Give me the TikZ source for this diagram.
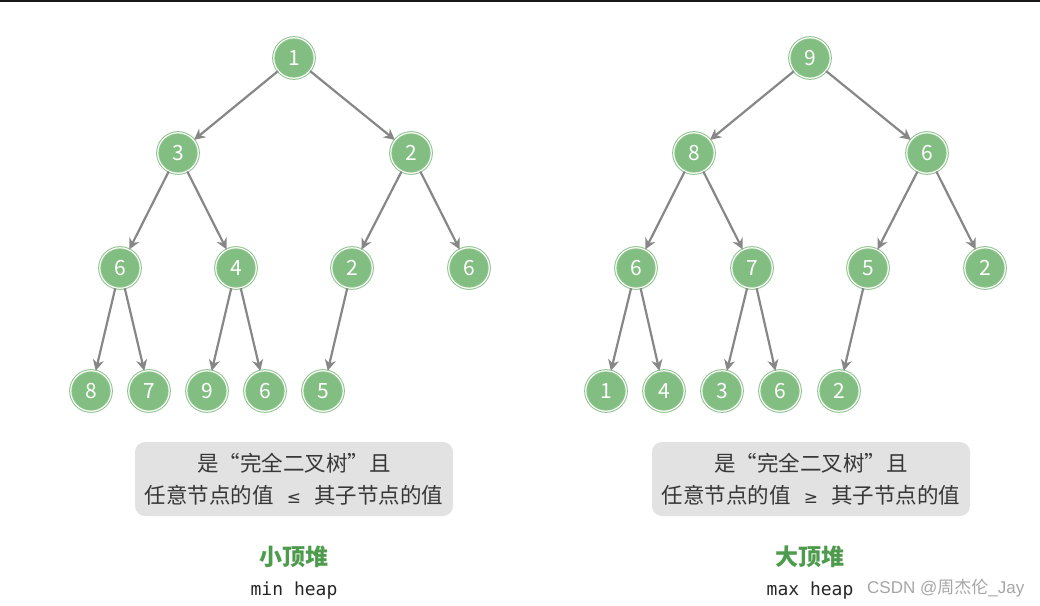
\documentclass[tikz,border=0pt]{standalone}
\usepackage{fontspec}
\setmainfont{Noto Sans CJK SC}
\newfontfamily\monof{DejaVu Sans Mono}
\newfontfamily\wmfont{Liberation Sans}
\newfontfamily\wmcjk{Noto Sans CJK SC}
\newfontfamily\symf{DejaVu Sans}
\usetikzlibrary{arrows.meta}
\definecolor{nodegreen}{RGB}{130,190,130}
\definecolor{ringgreen}{RGB}{140,196,140}
\definecolor{edgegray}{RGB}{135,135,135}
\definecolor{boxgray}{RGB}{226,226,226}
\definecolor{textdark}{RGB}{55,55,55}
\definecolor{titlegreen}{RGB}{78,155,78}
\tikzset{
  hnode/.style={circle, fill=nodegreen, draw=ringgreen, line width=1pt, double=white, double distance=1.2pt,
    minimum size=40.5pt, inner sep=0pt, text=white, font=\fontsize{21}{21}\selectfont},
  edge/.style={draw=edgegray, line width=2.2pt, -{Stealth[length=11pt,width=11pt,inset=3.5pt]}},
  infobox/.style={fill=boxgray, rounded corners=10pt, minimum width=318pt, minimum height=74pt, inner sep=0pt,
    text=textdark, align=center, font=\fontsize{21.5}{32}\selectfont},
  title/.style={text=titlegreen, font=\fontsize{23}{23}\selectfont\bfseries},
  subtitle/.style={text=black!85, font=\monof\fontsize{18}{18}\selectfont},
}
\newcommand{\relsym}[1]{\hspace{0.6em}{\symf\fontsize{17}{17}\selectfont #1}\hspace{0.6em}}
\begin{document}
\begin{tikzpicture}[x=1pt,y=-1pt]
\useasboundingbox (0,0) rectangle (1040,605);
\draw[line width=1.5pt, black!90] (0,0.75) -- (1040,0.75);
% min heap
\node[hnode] (a1) at (294,58) {1};
\node[hnode] (a2) at (178,153) {3};
\node[hnode] (a3) at (411,153) {2};
\node[hnode] (a4) at (120,268) {6};
\node[hnode] (a5) at (236,268) {4};
\node[hnode] (a6) at (352,268) {2};
\node[hnode] (a7) at (469,268) {6};
\node[hnode] (a8) at (91,391) {8};
\node[hnode] (a9) at (149,391) {7};
\node[hnode] (a10) at (207,391) {9};
\node[hnode] (a11) at (265,391) {6};
\node[hnode] (a12) at (323,391) {5};
\foreach \p/\c in {a1/a2,a1/a3,a2/a4,a2/a5,a3/a6,a3/a7,a4/a8,a4/a9,a5/a10,a5/a11,a6/a12}
  \draw[edge] (\p) -- (\c);
% max heap
\node[hnode] (b1) at (810,58) {9};
\node[hnode] (b2) at (694,153) {8};
\node[hnode] (b3) at (927,153) {6};
\node[hnode] (b4) at (636,268) {6};
\node[hnode] (b5) at (752,268) {7};
\node[hnode] (b6) at (868,268) {5};
\node[hnode] (b7) at (985,268) {2};
\node[hnode] (b8) at (606,391) {1};
\node[hnode] (b9) at (664,391) {4};
\node[hnode] (b10) at (722,391) {3};
\node[hnode] (b11) at (780,391) {6};
\node[hnode] (b12) at (839,391) {2};
\foreach \p/\c in {b1/b2,b1/b3,b2/b4,b2/b5,b3/b6,b3/b7,b4/b8,b4/b9,b5/b10,b5/b11,b6/b12}
  \draw[edge] (\p) -- (\c);
% boxes
\node[infobox] (boxa) at (294,479) {是“完全二叉树”且\\任意节点的值\relsym{≤}其子节点的值};
\node[infobox] (boxb) at (811,479) {是“完全二叉树”且\\任意节点的值\relsym{≥}其子节点的值};
% titles
\node[title] (ta) at (294,557) {小顶堆};
\node[subtitle] (sa) at (294,591) {min heap};
\node[title] (tb) at (810,557) {大顶堆};
\node[subtitle] (sb) at (810,591) {max heap};
% watermark
\node[text=black!35, font=\fontsize{17}{17}\selectfont, anchor=west, inner sep=0pt] (wm) at (867,588) {\wmfont CSDN @\wmcjk 周杰伦\wmfont\_Jay};
\end{tikzpicture}
\end{document}
